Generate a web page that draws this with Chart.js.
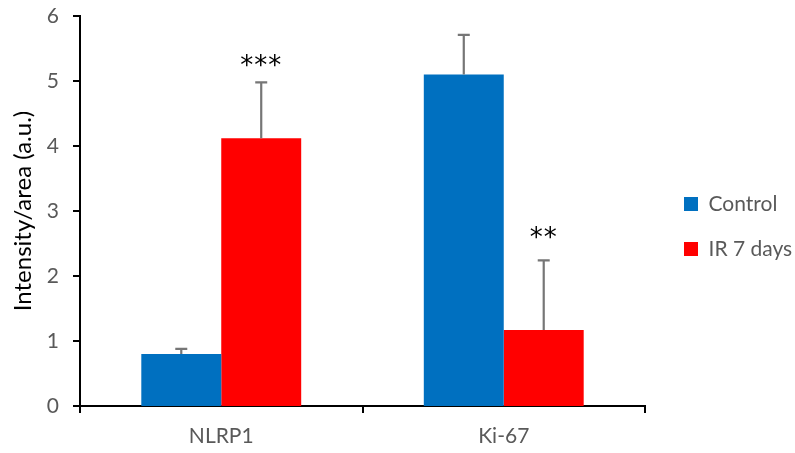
<!DOCTYPE html>
<html>
<head>
<meta charset="utf-8">
<script src="https://cdn.jsdelivr.net/npm/chart.js@4"></script>
<style>
  html, body { margin: 0; padding: 0; background: #fff; }
  #wrap { width: 795px; height: 453px; }
</style>
</head>
<body>
<div id="wrap"><canvas id="chart" width="795" height="453"></canvas></div>
<script>
// data
const categories = ["NLRP1", "Ki-67"];
const controlValues = [0.80, 5.10];
const controlErrors = [0.08, 0.61];
const irValues = [4.12, 1.17];
const irErrors = [0.86, 1.07];
const irSignificance = ["***", "**"];
const irSignificanceLevel = [5.27, 2.63];
const yTicks = [0, 1, 2, 3, 4, 5, 6];

const FONT = "Lato";
const GREY = "#595959";

// draws the upper error bars and the significance stars
const errorBarsPlugin = {
  id: "errorBars",
  afterDatasetsDraw(chart) {
    const { ctx } = chart;
    const yScale = chart.scales.y;
    ctx.save();
    chart.data.datasets.forEach((ds, di) => {
      const meta = chart.getDatasetMeta(di);
      meta.data.forEach((bar, i) => {
        const top = yScale.getPixelForValue(ds.data[i] + ds.errors[i]);
        const base = yScale.getPixelForValue(ds.data[i]);
        ctx.strokeStyle = "#767676";
        ctx.lineWidth = 2.2;
        ctx.beginPath();
        ctx.moveTo(bar.x, base);
        ctx.lineTo(bar.x, top);
        ctx.moveTo(bar.x - 6, top);
        ctx.lineTo(bar.x + 6, top);
        ctx.stroke();
        if (ds.stars && ds.stars[i]) {
          ctx.fillStyle = "#000";
          ctx.font = "26px 'DejaVu Sans'";
          ctx.letterSpacing = "1px";
          ctx.textAlign = "center";
          ctx.textBaseline = "middle";
          const sy = yScale.getPixelForValue(ds.starLevel[i]);
          ctx.fillText(ds.stars[i], bar.x, sy + 4);
        }
      });
    });
    ctx.restore();
  }
};

new Chart(document.getElementById("chart"), {
  type: "bar",
  data: {
    labels: categories,
    datasets: [
      {
        label: "Control",
        data: controlValues,
        errors: controlErrors,
        backgroundColor: "#0070C0",
        categoryPercentage: 0.566,
        barPercentage: 1.0
      },
      {
        label: "IR 7 days",
        data: irValues,
        errors: irErrors,
        stars: irSignificance,
        starLevel: irSignificanceLevel,
        backgroundColor: "#FF0000",
        categoryPercentage: 0.566,
        barPercentage: 1.0
      }
    ]
  },
  options: {
    responsive: false,
    maintainAspectRatio: false,
    devicePixelRatio: 1,
    animation: false,
    layout: { padding: { left: 0, top: 0, bottom: 0, right: 3 } },
    plugins: {
      legend: {
        position: "right",
        labels: {
          boxWidth: 14,
          boxHeight: 14,
          padding: 24,
          color: GREY,
          font: { family: FONT, size: 21 }
        }
      },
      tooltip: { enabled: false }
    },
    scales: {
      x: {
        grid: {
          drawOnChartArea: false,
          drawTicks: true,
          tickLength: 7,
          color: "#000",
          lineWidth: 2
        },
        border: { color: "#000", width: 2 },
        ticks: {
          color: GREY,
          padding: 11,
          font: { family: FONT, size: 21 }
        },
        afterFit(scale) { scale.height = 47; }
      },
      // empty spacers that fix the plot area inside the canvas
      topGap: {
        type: "category",
        position: "top",
        display: true,
        grid: { display: false },
        border: { display: false },
        ticks: { display: false },
        afterFit(scale) { scale.height = 16; }
      },
      gap: {
        type: "linear",
        position: "right",
        display: true,
        grid: { display: false },
        border: { display: false },
        ticks: { display: false },
        afterFit(scale) { scale.width = 15; }
      },
      y: {
        min: 0,
        max: 6,
        afterBuildTicks(scale) {
          scale.ticks = yTicks.map(v => ({ value: v }));
        },
        grid: {
          drawOnChartArea: false,
          drawTicks: true,
          tickLength: 7,
          color: "#000",
          lineWidth: 2
        },
        border: { color: "#000", width: 2 },
        ticks: {
          color: GREY,
          padding: 14,
          font: { family: FONT, size: 21 }
        },
        title: {
          display: true,
          text: "Intensity/area (a.u.)",
          color: "#000",
          padding: { top: 9, bottom: 0 },
          font: { family: FONT, size: 24 }
        },
        afterFit(scale) {
          scale.width = 80;
          // label overhang is handled by the top spacer
          scale.paddingTop = 0;
          scale.paddingBottom = 0;
        }
      }
    }
  },
  plugins: [errorBarsPlugin]
});
</script>
</body>
</html>
